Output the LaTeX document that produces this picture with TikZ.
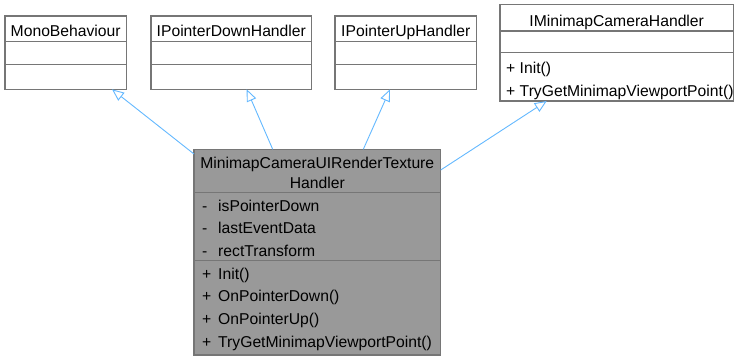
\documentclass[tikz,border=0pt]{standalone}
\usepackage{fontspec}
\setmainfont{Liberation Sans}
\usetikzlibrary{arrows.meta}
\definecolor{edgeblue}{HTML}{63B8FF}
\definecolor{framegray}{HTML}{767676}
\definecolor{mainfill}{HTML}{999999}

\begin{document}
\begin{tikzpicture}[x=1pt,y=-1pt,
  classbox/.style={draw=framegray, line width=1.1pt, fill=white, inner sep=0pt, outer sep=0pt, anchor=north west},
  divider/.style={draw=framegray, line width=1.1pt},
  umlfont/.style={font=\fontsize{15.7}{18}\selectfont},
  title/.style={umlfont, anchor=base, inner sep=0pt},
  member/.style={umlfont, anchor=base west, inner sep=0pt},
  inherit/.style={draw=edgeblue, line width=0.9pt, -{Triangle[fill=white, length=12pt, width=10pt]}}]
\useasboundingbox (0,0) rectangle (743,360);

% base classes and interfaces
\node[classbox, minimum width=121.5pt, minimum height=73.3pt] (mono) at (5,16) {};
\draw[divider] (mono.west |- 0,41.7) -- (mono.east |- 0,41.7);
\draw[divider] (mono.west |- 0,64.3) -- (mono.east |- 0,64.3);
\node[title] (monot) at (65.7,36.5) {MonoBehaviour};

\node[classbox, minimum width=160.7pt, minimum height=73.3pt] (down) at (151,16) {};
\draw[divider] (down.west |- 0,41.7) -- (down.east |- 0,41.7);
\draw[divider] (down.west |- 0,64.3) -- (down.east |- 0,64.3);
\node[title] (downt) at (231.3,36.5) {IPointerDownHandler};

\node[classbox, minimum width=141.7pt, minimum height=73.3pt] (up) at (335,16) {};
\draw[divider] (up.west |- 0,41.7) -- (up.east |- 0,41.7);
\draw[divider] (up.west |- 0,64.3) -- (up.east |- 0,64.3);
\node[title] (upt) at (405.8,36.5) {IPointerUpHandler};

\node[classbox, minimum width=233.3pt, minimum height=96.3pt] (imc) at (500,4.7) {};
\draw[divider] (imc.west |- 0,31) -- (imc.east |- 0,31);
\draw[divider] (imc.west |- 0,52.7) -- (imc.east |- 0,52.7);
\node[title] (imct) at (616.7,26) {IMinimapCameraHandler};
\node[member] (imcm1) at (506,73.5) {+ Init()};
\node[member] (imcm2) at (506,96) {+ TryGetMinimapViewportPoint()};

% the documented class
\node[classbox, fill=mainfill, minimum width=246.7pt, minimum height=205.7pt] (main) at (194,149.3) {};
\draw[divider] (main.west |- 0,192.7) -- (main.east |- 0,192.7);
\draw[divider] (main.west |- 0,260.7) -- (main.east |- 0,260.7);
\node[title] (maint1) at (317.3,168.8) {MinimapCameraUIRenderTexture};
\node[title] (maint2) at (317.3,188) {Handler};

\node[member] (a1s) at (202,211) {-};
\node[member] (a1) at (218,211) {isPointerDown};
\node[member] (a2s) at (202,233.5) {-};
\node[member] (a2) at (218,233.5) {lastEventData};
\node[member] (a3s) at (202,256.3) {-};
\node[member] (a3) at (218,256.3) {rectTransform};

\node[member] (m1s) at (202,279.5) {+};
\node[member] (m1) at (218,279.5) {Init()};
\node[member] (m2s) at (202,301.8) {+};
\node[member] (m2) at (218,301.8) {OnPointerDown()};
\node[member] (m3s) at (202,324.5) {+};
\node[member] (m3) at (218,324.5) {OnPointerUp()};
\node[member] (m4s) at (202,347) {+};
\node[member] (m4) at (218,347) {TryGetMinimapViewportPoint()};

% inheritance arrows
\draw[inherit] (main.west |- 0,154) -- (112,0 |- mono.south);
\draw[inherit] (272.7,0 |- main.north) -- (246.7,0 |- down.south);
\draw[inherit] (363.3,0 |- main.north) -- (390,0 |- up.south);
\draw[inherit] (main.east |- 0,170) -- (546.7,0 |- imc.south);
\end{tikzpicture}
\end{document}
